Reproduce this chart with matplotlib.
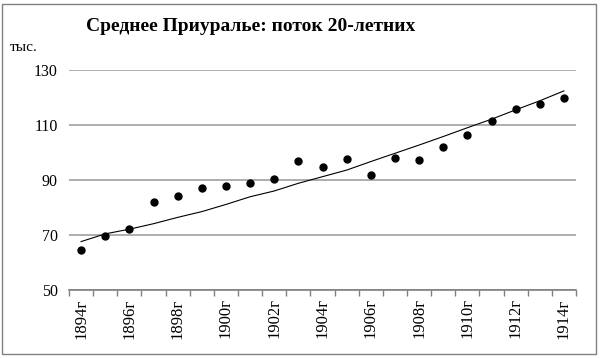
import matplotlib.pyplot as plt
import numpy as np
from matplotlib.patches import Rectangle

plt.rcParams['font.family'] = ['Liberation Serif', 'DejaVu Serif']

# data
years = list(range(1894, 1915))
labels = [f'{y}г' for y in years]
values = [64.4, 69.8, 72.3, 82.0, 84.3, 87.1, 87.8, 88.9, 90.4, 96.9, 94.7,
          97.5, 91.8, 98.1, 97.3, 101.9, 106.2, 111.3, 115.9, 117.5, 119.9]
trend = [67.6, 70.4, 72.1, 74.1, 76.4, 78.5, 81.1, 83.9, 86.0, 88.8, 91.2,
         93.6, 96.7, 99.7, 102.7, 105.8, 109.0, 112.1, 115.5, 118.8, 122.4]
yticks = [50, 70, 90, 110, 130]

fig = plt.figure(figsize=(6, 3.58), dpi=100)
ax = fig.add_axes([0.115, 0.19, 0.845, 0.6145])

x = np.arange(len(years))
ax.plot(x, trend, color='black', lw=0.8)
ax.plot(x, values, 'o', color='black', ms=5)

ax.set_xlim(-0.5, len(years) - 0.5)
ax.set_ylim(50, 130)
ax.set_yticks(yticks)
ax.set_yticklabels([str(v) for v in yticks], fontsize=11.5)
ax.tick_params(axis='y', length=0, pad=8)
ax.grid(axis='y', color='#a0a0a0', lw=1.2)
ax.set_axisbelow(True)

ax.set_xticks(x[::2])
ax.set_xticklabels(labels[::2], rotation=90, fontsize=12)
ax.set_xticks(np.arange(-0.5, len(years)), minor=True)
ax.tick_params(axis='x', which='major', length=0, pad=6)
ax.tick_params(axis='x', which='minor', length=4, color='#808080', width=1)

for s in ['top', 'right', 'left']:
    ax.spines[s].set_visible(False)
ax.spines['bottom'].set_color('#808080')
ax.spines['bottom'].set_linewidth(1.2)

fig.text(0.417, 0.925, 'Среднее Приуралье: поток 20-летних', ha='center', va='center',
         fontsize=14, fontweight='bold')
fig.text(0.017, 0.868, 'тыс.', ha='left', va='center', fontsize=11)

fig.patches.append(Rectangle((0.004, 0.01), 0.99, 0.98, transform=fig.transFigure,
                             fill=False, edgecolor='#808080', lw=1))

fig.savefig('out.png', dpi=100)
